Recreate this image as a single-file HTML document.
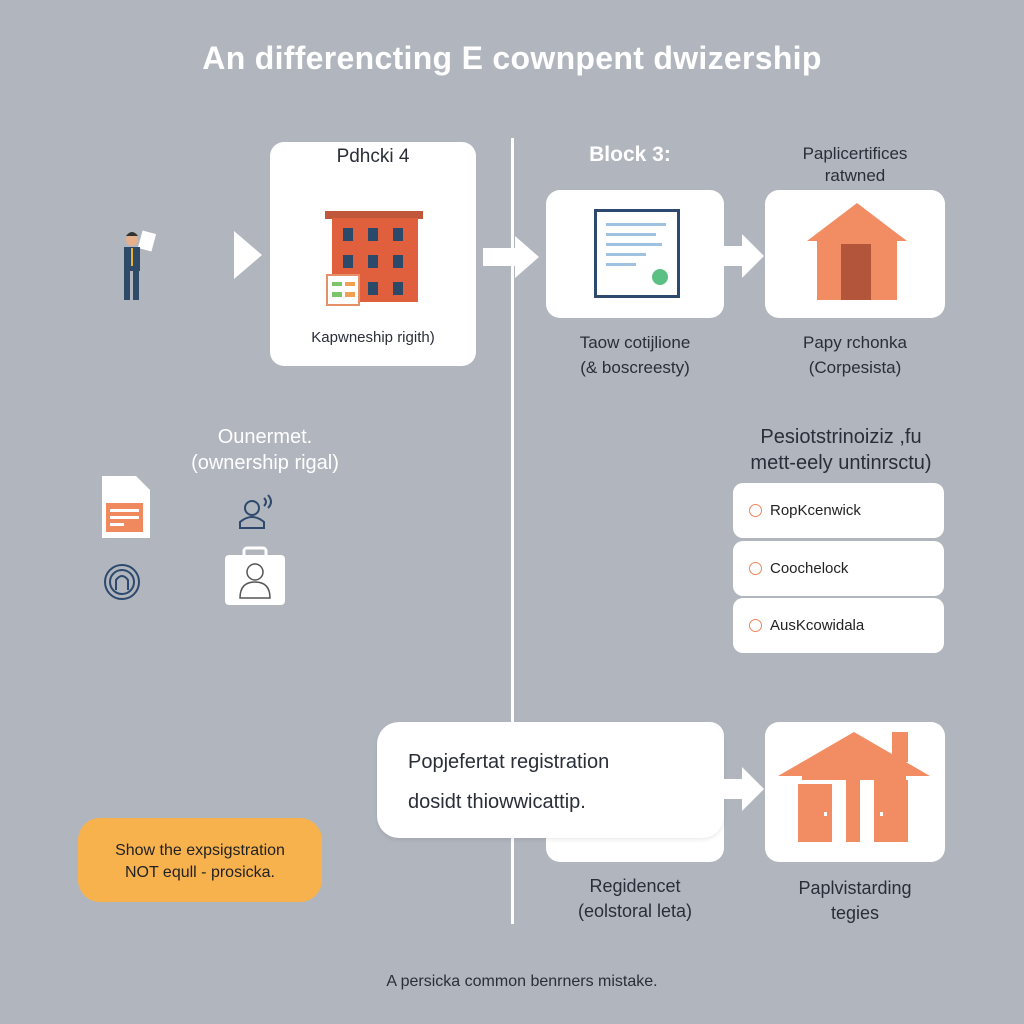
<!DOCTYPE html>
<html><head><style>
body{margin:0;width:1024px;height:1024px;background:#b1b5bd;font-family:"Liberation Sans",sans-serif;position:relative;overflow:hidden}
.a{position:absolute}
.box{position:absolute;background:#fff;border-radius:14px}
.t{position:absolute;text-align:center;color:#2a2e38}
.w{color:#fff}
.row{position:absolute;left:733px;width:211px;background:#fff;border-radius:10px;font-size:15px;color:#222}
.row span{display:inline-block;width:11px;height:11px;border:1.5px solid #e8865a;border-radius:50%;margin:0 8px 0 16px;vertical-align:-2px}
</style></head><body>
<div class="t w" style="left:0;width:1024px;top:40px;font-size:32px;font-weight:bold;letter-spacing:0.3px">An differencting E cownpent dwizership</div>
<div class="a" style="left:511px;top:138px;width:3px;height:786px;background:#fff"></div>

<svg class="a" style="left:112px;top:228px" width="50" height="76">
<rect x="28" y="4" width="14" height="18" fill="#fff" transform="rotate(15 35 13)"/>
<circle cx="20" cy="12" r="6" fill="#e5b08b"/><path d="M14 8 q6 -8 12 0" fill="#333"/>
<rect x="12" y="19" width="16" height="24" fill="#2f4a68"/><rect x="19" y="20" width="2" height="18" fill="#e8b52a"/>
<rect x="12" y="42" width="6" height="30" fill="#2f4a68"/><rect x="21" y="42" width="6" height="30" fill="#2f4a68"/>
</svg>
<svg class="a" style="left:234px;top:231px" width="30" height="48"><path d="M0 0L28 24L0 48Z" fill="#fff"/></svg>

<div class="box" style="left:270px;top:142px;width:206px;height:224px"></div>
<div class="t" style="left:270px;width:206px;top:146px;font-size:19px">Pdhcki 4</div>
<svg class="a" style="left:325px;top:210px" width="100" height="98">
<rect x="0" y="1" width="98" height="8" fill="#c0573a"/><rect x="7" y="8" width="86" height="84" fill="#e0603e"/>
<g fill="#2b4a6a"><rect x="18" y="18" width="10" height="13"/><rect x="43" y="18" width="10" height="13"/><rect x="68" y="18" width="10" height="13"/>
<rect x="18" y="45" width="10" height="13"/><rect x="43" y="45" width="10" height="13"/><rect x="68" y="45" width="10" height="13"/>
<rect x="43" y="72" width="10" height="13"/><rect x="68" y="72" width="10" height="13"/></g>
<rect x="2" y="65" width="32" height="30" fill="#fff" stroke="#e6906a" stroke-width="2"/>
<rect x="7" y="72" width="10" height="4" fill="#7cc46a"/><rect x="20" y="72" width="10" height="4" fill="#f0a050"/><rect x="7" y="82" width="10" height="5" fill="#7cc46a"/><rect x="20" y="82" width="10" height="5" fill="#f0a050"/>
</svg>
<div class="t" style="left:270px;width:206px;top:329px;font-size:15px">Kapwneship rigith)</div>

<svg class="a" style="left:483px;top:236px" width="58" height="42"><path d="M0 12H32V0L56 21L32 42V30H0Z" fill="#fff"/></svg>

<div class="t" style="left:560px;width:140px;top:143px;font-size:21px;font-weight:bold;color:#fff">Block 3:</div>
<div class="box" style="left:546px;top:190px;width:178px;height:128px"></div>
<svg class="a" style="left:594px;top:209px" width="86" height="90">
<rect x="1.5" y="1.5" width="83" height="86" fill="#fff" stroke="#2d4a6e" stroke-width="3"/>
<g fill="#9fc2e0"><rect x="12" y="14" width="60" height="3"/><rect x="12" y="24" width="50" height="3"/><rect x="12" y="34" width="56" height="3"/><rect x="12" y="44" width="40" height="3"/><rect x="12" y="54" width="30" height="3"/></g>
<circle cx="66" cy="68" r="8" fill="#5cc085"/></svg>
<div class="t" style="left:546px;width:178px;top:330px;font-size:17px;line-height:25px">Taow cotijlione<br>(&amp; boscreesty)</div>

<svg class="a" style="left:722px;top:234px" width="44" height="44"><path d="M0 12H20V0L42 22L20 44V32H0Z" fill="#fff"/></svg>

<div class="t" style="left:765px;width:180px;top:143px;font-size:17px;line-height:22px">Paplicertifices<br>ratwned</div>
<div class="box" style="left:765px;top:190px;width:180px;height:128px"></div>
<svg class="a" style="left:805px;top:201px" width="104" height="100"><path d="M52 2L102 40H92V99H12V40H2Z" fill="#f28c63"/><rect x="36" y="43" width="30" height="56" fill="#b2553a"/></svg>
<div class="t" style="left:765px;width:180px;top:330px;font-size:17px;line-height:25px">Papy rchonka<br>(Corpesista)</div>

<div class="t w" style="left:140px;width:250px;top:424px;font-size:20px;line-height:26px">Ounermet.<br>(ownership rigal)</div>
<svg class="a" style="left:98px;top:476px" width="54" height="64"><path d="M4 0H38L52 14V62H4Z" fill="#fff"/><rect x="8" y="27" width="37" height="29" fill="#f08a5e"/><g fill="#fff"><rect x="12" y="33" width="29" height="3"/><rect x="12" y="40" width="29" height="3"/><rect x="12" y="47" width="14" height="3"/></g></svg>
<svg class="a" style="left:236px;top:494px" width="40" height="36" fill="none" stroke="#2d4a6e" stroke-width="2"><circle cx="16" cy="14" r="7"/><path d="M4 34V28q12-10 24 0v6Z"/><path d="M28 4q4 4 0 8M32 1q6 7 0 13"/></svg>
<svg class="a" style="left:102px;top:562px" width="40" height="40" fill="none" stroke="#2d4a6e" stroke-width="2"><circle cx="20" cy="20" r="17"/><circle cx="20" cy="20" r="12"/><path d="M14 28V18q6-8 12 0v10"/></svg>
<svg class="a" style="left:224px;top:546px" width="62" height="60"><rect x="20" y="2" width="22" height="10" rx="3" fill="none" stroke="#fff" stroke-width="3"/><rect x="1" y="9" width="60" height="50" rx="4" fill="#fff"/><g fill="none" stroke="#555" stroke-width="1.5"><circle cx="31" cy="26" r="8"/><path d="M16 52q0-16 15-16t15 16Z"/></g></svg>

<div class="t" style="left:726px;width:230px;top:424px;font-size:20px;line-height:26px">Pesiotstrinoiziz ,fu<br>mett-eely untinrsctu)</div>
<div class="row" style="top:483px;height:55px;line-height:55px"><span></span>RopKcenwick</div>
<div class="row" style="top:541px;height:55px;line-height:55px"><span></span>Coochelock</div>
<div class="row" style="top:598px;height:55px;line-height:55px"><span></span>AusKcowidala</div>

<div class="box" style="left:546px;top:722px;width:178px;height:140px"></div>
<div class="box" style="left:377px;top:722px;width:347px;height:116px;border-radius:22px;box-shadow:0 2px 4px rgba(0,0,0,.08)"></div>
<div class="t" style="left:408px;top:742px;font-size:20px;line-height:40px;text-align:left">Popjefertat registration<br>dosidt thiowwicattip.</div>
<svg class="a" style="left:722px;top:767px" width="44" height="44"><path d="M0 12H20V0L42 22L20 44V32H0Z" fill="#fff"/></svg>
<div class="box" style="left:765px;top:722px;width:180px;height:140px"></div>
<svg class="a" style="left:776px;top:730px" width="156" height="114"><path d="M78 2L154 46H2Z" fill="#f28c63"/><rect x="116" y="2" width="16" height="30" fill="#f28c63"/><rect x="26" y="44" width="104" height="6" fill="#f28c63"/><rect x="22" y="54" width="34" height="58" fill="#f28c63"/><rect x="98" y="50" width="34" height="62" fill="#f28c63"/><rect x="70" y="50" width="14" height="62" fill="#f28c63"/><rect x="48" y="82" width="3" height="4" fill="#fff"/><rect x="104" y="82" width="3" height="4" fill="#fff"/></svg>
<div class="t" style="left:546px;width:178px;top:874px;font-size:18px;line-height:25px">Regidencet<br>(eolstoral leta)</div>
<div class="t" style="left:765px;width:180px;top:876px;font-size:18px;line-height:25px">Paplvistarding<br>tegies</div>

<div class="a" style="left:78px;top:818px;width:244px;height:84px;background:#f7b24e;border-radius:22px"></div>
<div class="t" style="left:78px;width:244px;top:840px;font-size:16px;line-height:22px;color:#222">Show the expsigstration<br>NOT equll - prosicka.</div>

<div class="t" style="left:0;width:1044px;top:973px;font-size:16px">A persicka common benrners mistake.</div>
</body></html>
